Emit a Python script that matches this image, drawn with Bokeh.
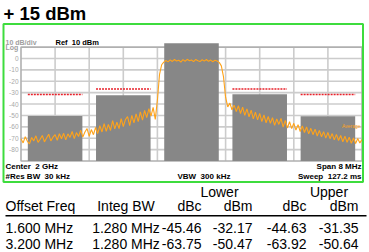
import numpy as np
from bokeh.plotting import figure
from bokeh.models import Range1d
from bokeh.core.properties import value
from bokeh.embed import file_html
from bokeh.resources import INLINE

# ---------------- data ----------------
center_mhz = 2000.0
span_mhz = 8.0
ref_level = 10.0
bottom_level = -90.0
db_per_div = 10.0
freq_divs = 10

channel_offsets = [-3.2, -1.6, 0.0, 1.6, 3.2]
integ_bw = 1.28
channel_power = [-50.47, -32.17, 13.29, -31.35, -50.64]

limit_offsets = [-3.2, -1.6, 1.6, 3.2]
limit_dbc = [-45, -40, -40, -45]

y_tick_values = [0, -10, -20, -30, -40, -50, -60, -70, -80]

trace_dbm = [
    -70.5, -74.1, -68.6, -72.7, -75.0, -69.4, -72.3, -67.9, -73.6, -70.9,
    -67.6, -73.2, -69.8, -66.5, -72.4, -69.1, -66.8, -71.8, -66.1, -70.4,
    -65.7, -71.5, -66.2, -69.3, -64.1, -70.4, -65.1, -68.5, -62.9, -69.0,
    -64.6, -61.5, -68.3, -62.4, -66.9,
    -60.6, -66.0, -59.0, -64.5, -57.2, -63.9, -57.8, -63.2, -54.5, -61.8,
    -56.0, -61.5, -52.8, -59.7, -53.6, -51.0, -58.9, -49.9, -56.6, -48.6,
    -55.4, -46.9, -54.2, -45.6, -51.9, -44.0, -50.6, -42.9,
    -53.5, -36.5, -14.0, -5.5, -3.2,
    -1.8, -3.0, -1.2, -2.6, -0.9, -2.2, -1.5, -3.1, -1.0, -2.4,
    -0.7, -2.0, -1.3, -2.8, -0.8, -1.9, -2.7, -1.1, -2.3, -0.9,
    -2.5, -1.4, -2.9, -1.6, -2.2,
    -3.4, -6.5, -16.0, -34.0, -42.5,
    -39.2, -45.0, -41.0, -46.6, -41.5, -48.3, -42.7, -49.9, -44.2, -51.2,
    -45.4, -53.0, -47.1, -53.9, -48.2, -55.5, -49.6, -56.4, -50.9, -56.9,
    -52.0, -58.7, -53.1, -57.9, -52.6, -60.2, -54.3, -61.0, -55.5,
    -61.6, -56.9, -62.9, -58.1, -64.1, -59.3, -65.0, -60.1, -66.2, -61.3,
    -66.9, -62.0, -68.1, -63.1, -68.7, -64.2, -69.9, -65.0, -70.4, -65.9,
    -71.5, -66.6, -72.0, -67.6, -73.1, -68.3, -73.6, -69.2, -74.4, -69.8,
    -74.6, -70.3, -74.1, -71.2,
]

title_text = "+ 15 dBm"
table_offset = ["1.600 MHz", "3.200 MHz"]
table_bw = ["1.280 MHz", "1.280 MHz"]
lower_dbc = ["-45.46", "-63.75"]
lower_dbm = ["-32.17", "-50.47"]
upper_dbc = ["-44.63", "-63.92"]
upper_dbm = ["-31.35", "-50.64"]

FONT = "Liberation Sans"

# ---------------- layout (pixels) ----------------
W, H = 369, 252
plot_left_px, plot_right_px = 20.5, 361.5
plot_top_px, plot_bottom_px = 46.6, 160.5

f0 = center_mhz - span_mhz / 2
f1 = center_mhz + span_mhz / 2
ppm = (plot_right_px - plot_left_px) / span_mhz
ppd = (plot_bottom_px - plot_top_px) / (ref_level - bottom_level)
x_range = Range1d(f0 - plot_left_px / ppm, f1 + (W - plot_right_px) / ppm)
y_range = Range1d(bottom_level - (H - plot_bottom_px) / ppd, ref_level + plot_top_px / ppd)

p = figure(width=W, height=H, output_backend="svg", toolbar_location=None,
           title=None, x_axis_location=None, y_axis_location=None,
           x_range=x_range, y_range=y_range,
           min_border=0, min_border_left=0, min_border_right=0,
           min_border_top=0, min_border_bottom=0)
p.extra_x_ranges = {"px": Range1d(0, W)}
p.extra_y_ranges = {"px": Range1d(H, 0)}
p.outline_line_color = None
p.background_fill_color = "white"
p.border_fill_color = "white"
p.grid.visible = False

# grid lines
vx = [f0 + span_mhz / freq_divs * k for k in range(1, freq_divs)]
p.segment(x0=vx, x1=vx, y0=bottom_level, y1=ref_level, line_color="#cccccc", line_width=1.6)
hy = list(np.arange(bottom_level + db_per_div, ref_level, db_per_div))
p.segment(x0=f0, x1=f1, y0=hy, y1=hy, line_color="#cccccc", line_width=1.6)
p.quad(left=[f0], right=[f1], bottom=[bottom_level], top=[ref_level],
       fill_color=None, line_color="#b0b0b0", line_width=1.6)

# y tick labels
p.text(x=[f0] * len(y_tick_values), y=y_tick_values, text=[str(v) for v in y_tick_values],
       text_font=value(FONT), text_font_size="6.5px", text_color="#a8a8a8",
       text_align="right", text_baseline="middle", x_offset=-2.5)

# channel power bars
lefts = [center_mhz + o - integ_bw / 2 for o in channel_offsets]
rights = [center_mhz + o + integ_bw / 2 for o in channel_offsets]
p.quad(left=lefts, right=rights, bottom=bottom_level, top=channel_power,
       fill_color="#878787", line_color=None)

# trace
fx = np.linspace(f0, f1, len(trace_dbm))
p.line(fx, trace_dbm, line_color="#ffa31a", line_width=1.1)

# limit lines
main_power = channel_power[channel_offsets.index(0.0)]
lx0 = [center_mhz + o - integ_bw / 2 for o in limit_offsets]
lx1 = [center_mhz + o + integ_bw / 2 for o in limit_offsets]
ly = [main_power + d for d in limit_dbc]
p.segment(x0=lx0, x1=lx1, y0=ly, y1=ly, line_color="#e8202a", line_width=1.5, line_dash="2 1")


def lab(text, x, y, size, bold=False, color="black", align="left"):
    p.text(x=[x], y=[y], text=[text], x_range_name="px", y_range_name="px",
           text_font=value(FONT), text_font_size=size,
           text_font_style="bold" if bold else "normal",
           text_color=color, text_align=align, text_baseline="middle")


# green border
p.quad(left=[3], right=[362.5], top=[23.5], bottom=[181.5], x_range_name="px", y_range_name="px",
       fill_color=None, line_color="#3ddc3d", line_width=2)

lab(title_text, 3, 12.7, "18.5px", bold=True)
lab("10 dB/div", 5, 41.6, "7px", bold=True, color="#a0a0a0")
lab("Log", 5, 47, "7px", bold=True, color="#a0a0a0")
lab("Ref\u00a0 10 dBm", 55, 41.6, "7.5px", bold=True)
lab("Center\u00a0 2 GHz", 5, 166.3, "8px", bold=True)
lab("#Res BW\u00a0 30 kHz", 5, 175.5, "8px", bold=True)
lab("VBW\u00a0 300 kHz", 177, 175.5, "8px", bold=True)
lab("Span 8 MHz", 361, 166.3, "8px", bold=True, align="right")
lab("Sweep\u00a0 127.2 ms", 361, 175.5, "8px", bold=True, align="right")
lab("Average", 360, 125.5, "5px", color="#ffa31a", align="right")

# table
TS = "14px"
lab("Lower", 219, 191, TS, align="center")
lab("Upper", 328.5, 191, TS, align="center")
lab("Offset Freq", 5, 205, TS)
lab("Integ BW", 125.5, 205, TS, align="center")
lab("dBc", 201, 205, TS, align="right")
lab("dBm", 252, 205, TS, align="right")
lab("dBc", 306, 205, TS, align="right")
lab("dBm", 358, 205, TS, align="right")
p.segment(x0=[5], x1=[366], y0=[215.3], y1=[215.3], x_range_name="px", y_range_name="px",
          line_color="black", line_width=1.5)
row_y = [227.3, 243]
for i in range(len(table_offset)):
    y = row_y[i]
    lab(table_offset[i], 5, y, TS)
    lab(table_bw[i], 125.5, y, TS, align="center")
    lab(lower_dbc[i], 201, y, TS, align="right")
    lab(lower_dbm[i], 252, y, TS, align="right")
    lab(upper_dbc[i], 306, y, TS, align="right")
    lab(upper_dbm[i], 358, y, TS, align="right")

open("out.html", "w").write(file_html(p, INLINE))
